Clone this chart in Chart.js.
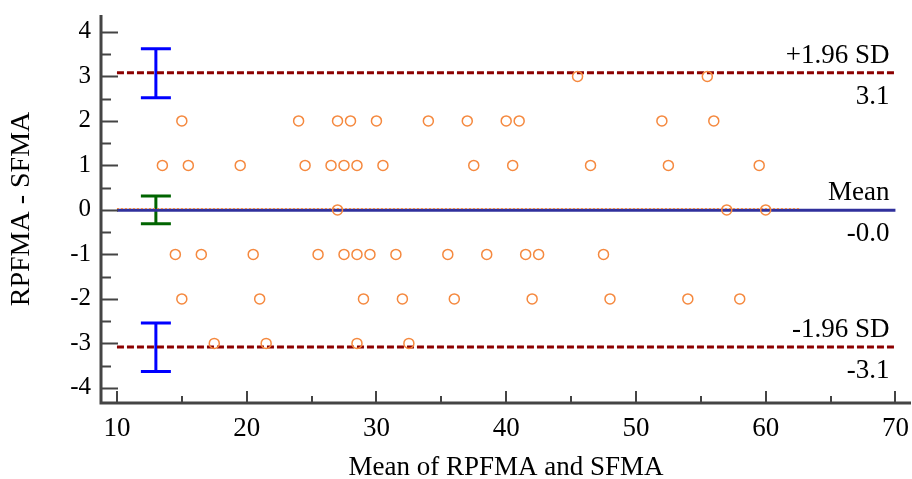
<!DOCTYPE html>
<html lang="en">
<head>
    <meta charset="UTF-8">
    <title>Bland-Altman Plot</title>
    <script src="https://cdn.jsdelivr.net/npm/chart.js@4.4.0/dist/chart.umd.min.js"></script>
    <style>
        body { margin: 0; background: #fff; }
    </style>
</head>
<body>
    <canvas id="myChart" width="912" height="479"></canvas>

    <script>
        // Scatter points: x = mean of the two methods, y = difference
        const meanVals = [
            45.5, 55.5,
            15, 24, 27, 28, 30, 34, 37, 40, 41, 52, 56,
            13.5, 15.5, 19.5, 24.5, 26.5, 27.5, 28.5, 30.5, 37.5, 40.5, 46.5, 52.5, 59.5,
            27, 57, 60,
            14.5, 16.5, 20.5, 25.5, 27.5, 28.5, 29.5, 31.5, 35.5, 38.5, 41.5, 42.5, 47.5,
            15, 21, 29, 32, 36, 42, 48, 54, 58,
            17.5, 21.5, 28.5, 32.5
        ];
        const diffVals = [
            3, 3,
            2, 2, 2, 2, 2, 2, 2, 2, 2, 2, 2,
            1, 1, 1, 1, 1, 1, 1, 1, 1, 1, 1, 1, 1,
            0, 0, 0,
            -1, -1, -1, -1, -1, -1, -1, -1, -1, -1, -1, -1, -1,
            -2, -2, -2, -2, -2, -2, -2, -2, -2,
            -3, -3, -3, -3
        ];

        // Mean difference and limits of agreement
        const meanDiff = -0.01;
        const upperLoA = 3.08;
        const lowerLoA = -3.08;
        const lineRange = [10, 70];
        const regressionRange = [10, 62.7];
        const regressionVal = 0.03;

        // Confidence intervals drawn at x = 13
        const ciX = 13;
        const ciLow = [2.52, -0.31, -3.63];
        const ciHigh = [3.62, 0.31, -2.54];

        // Right side labels
        const lineNames = ['+1.96 SD', 'Mean', '-1.96 SD'];
        const lineValues = ['3.1', '-0.0', '-3.1'];

        // Ticks
        const xTicks = [10, 20, 30, 40, 50, 60, 70];
        const xMinorTicks = [15, 25, 35, 45, 55, 65];
        const yTicks = [-4, -3, -2, -1, 0, 1, 2, 3, 4];
        const yMinorTicks = [-3.5, -2.5, -1.5, -0.5, 0.5, 1.5, 2.5, 3.5];

        const serif = 'Liberation Serif';
        const ciColors = ['#0000ff', '#006400', '#0000ff'];

        const points = meanVals.map((m, i) => ({ x: m, y: diffVals[i] }));
        const hLine = (y, range) => [{ x: range[0], y: y }, { x: range[1], y: y }];

        // axes with inward ticks, error bars and the side labels
        const blandAltman = {
            id: 'blandAltman',
            beforeDatasetsDraw(chart) {
                const { ctx, scales: { x, y } } = chart;
                ctx.save();
                // CI bars
                ctx.lineWidth = 3;
                ciLow.forEach((lo, i) => {
                    const px = x.getPixelForValue(ciX);
                    const y1 = y.getPixelForValue(lo);
                    const y2 = y.getPixelForValue(ciHigh[i]);
                    ctx.strokeStyle = ciColors[i];
                    ctx.beginPath();
                    ctx.moveTo(px, y1); ctx.lineTo(px, y2);
                    ctx.moveTo(px - 15, y1); ctx.lineTo(px + 15, y1);
                    ctx.moveTo(px - 15, y2); ctx.lineTo(px + 15, y2);
                    ctx.stroke();
                });
                ctx.restore();
            },
            afterDatasetsDraw(chart) {
                const { ctx, chartArea: a, scales: { x, y } } = chart;
                ctx.save();
                ctx.strokeStyle = '#444';
                ctx.lineWidth = 3;
                ctx.beginPath();
                ctx.moveTo(a.left, a.top);
                ctx.lineTo(a.left, a.bottom);
                ctx.lineTo(a.right, a.bottom);
                ctx.stroke();

                ctx.lineWidth = 2;
                ctx.beginPath();
                yTicks.forEach(v => {
                    const py = Math.round(y.getPixelForValue(v)) + 0.5;
                    ctx.moveTo(a.left, py); ctx.lineTo(a.left + 17, py);
                });
                yMinorTicks.forEach(v => {
                    const py = Math.round(y.getPixelForValue(v)) + 0.5;
                    ctx.moveTo(a.left, py); ctx.lineTo(a.left + 10, py);
                });
                xTicks.forEach(v => {
                    const px = Math.round(x.getPixelForValue(v));
                    ctx.moveTo(px, a.bottom); ctx.lineTo(px, a.bottom - 12);
                });
                xMinorTicks.forEach(v => {
                    const px = Math.round(x.getPixelForValue(v));
                    ctx.moveTo(px, a.bottom); ctx.lineTo(px, a.bottom - 7);
                });
                ctx.stroke();

                // labels at the right end of the lines
                ctx.fillStyle = '#000';
                ctx.font = '27px "' + serif + '"';
                ctx.textAlign = 'right';
                ctx.textBaseline = 'alphabetic';
                const tx = x.getPixelForValue(lineRange[1]) - 6;
                [upperLoA, meanDiff, lowerLoA].forEach((v, i) => {
                    const py = y.getPixelForValue(v);
                    ctx.fillText(lineNames[i], tx, py - 10);
                    ctx.fillText(lineValues[i], tx, py + 31);
                });
                ctx.restore();
            }
        };

        const ctx = document.getElementById('myChart').getContext('2d');

        new Chart(ctx, {
            type: 'scatter',
            data: {
                datasets: [
                    {
                        label: 'Differences',
                        data: points,
                        pointStyle: 'circle',
                        pointRadius: 5,
                        pointBorderWidth: 1.5,
                        borderColor: '#f5893f',
                        backgroundColor: 'rgba(0,0,0,0)'
                    },
                    {
                        type: 'line',
                        data: hLine(upperLoA, lineRange),
                        borderColor: '#8b0000',
                        borderWidth: 3,
                        borderDash: [7, 3],
                        pointRadius: 0
                    },
                    {
                        type: 'line',
                        data: hLine(lowerLoA, lineRange),
                        borderColor: '#8b0000',
                        borderWidth: 3,
                        borderDash: [7, 3],
                        pointRadius: 0
                    },
                    {
                        type: 'line',
                        data: hLine(regressionVal, regressionRange),
                        borderColor: '#f5893f',
                        borderWidth: 1,
                        borderDash: [2, 2],
                        pointRadius: 0
                    },
                    {
                        type: 'line',
                        data: hLine(meanDiff, lineRange),
                        borderColor: '#30309c',
                        borderWidth: 3,
                        pointRadius: 0
                    }
                ]
            },
            options: {
                responsive: false,
                animation: false,
                layout: {
                    autoPadding: false,
                    padding: { top: 15, right: 1, left: 0, bottom: 0 }
                },
                plugins: {
                    legend: { display: false },
                    tooltip: { enabled: false }
                },
                scales: {
                    x: {
                        type: 'linear',
                        min: 8.77,
                        max: 71.2,
                        afterBuildTicks: s => { s.ticks = xTicks.map(v => ({ value: v })); },
                        afterFit: s => {
                            s.height = 76;
                            s.paddingLeft = 0; s.paddingRight = 0;
                        },
                        grid: { display: false, drawTicks: false },
                        border: { display: false },
                        ticks: {
                            padding: 10,
                            color: '#000',
                            font: { family: serif, size: 27 }
                        },
                        title: {
                            display: true,
                            text: 'Mean of RPFMA and SFMA',
                            color: '#000',
                            font: { family: serif, size: 27 },
                            padding: { top: 0, bottom: -5 }
                        }
                    },
                    y: {
                        type: 'linear',
                        min: -4.34,
                        max: 4.38,
                        afterBuildTicks: s => { s.ticks = yTicks.map(v => ({ value: v })); },
                        afterFit: s => {
                            s.width = 101;
                            s.paddingTop = 0; s.paddingBottom = 0;
                        },
                        grid: { display: false, drawTicks: false },
                        border: { display: false },
                        ticks: {
                            padding: 10,
                            color: '#000',
                            font: { family: serif, size: 25 }
                        },
                        title: {
                            display: true,
                            text: 'RPFMA - SFMA',
                            color: '#000',
                            font: { family: serif, size: 28 },
                            padding: { top: 5, bottom: 0 }
                        }
                    }
                }
            },
            plugins: [blandAltman]
        });
    </script>
</body>
</html>
